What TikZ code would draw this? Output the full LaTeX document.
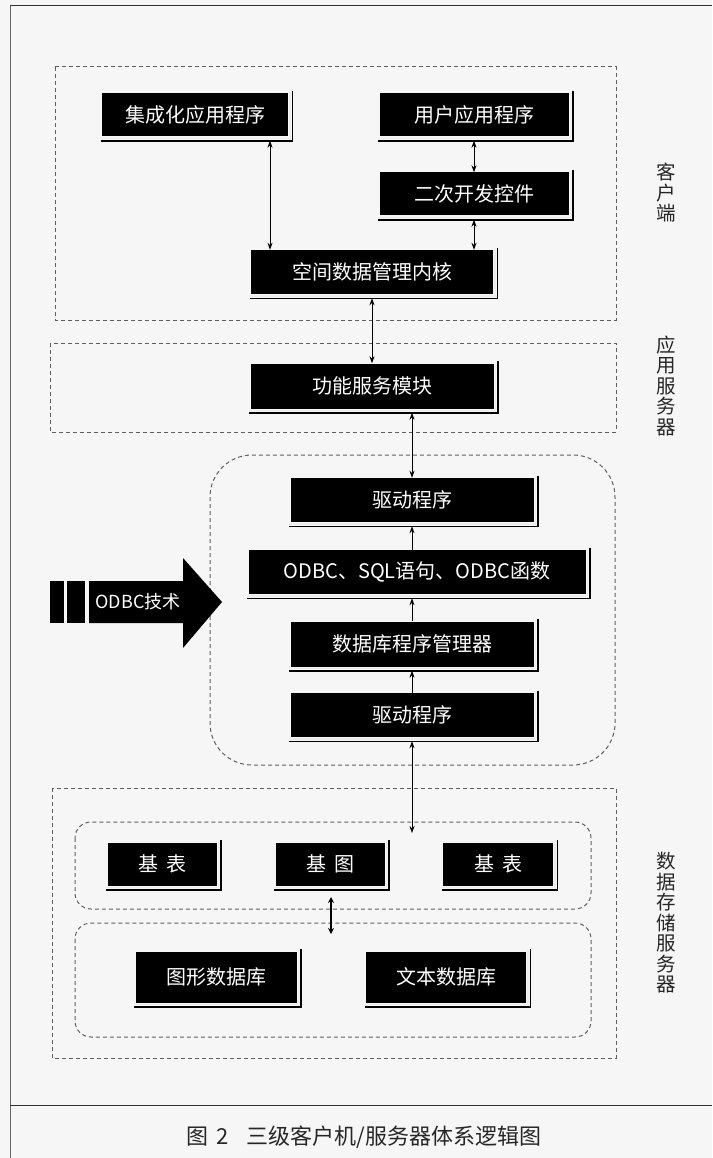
\documentclass[tikz,border=0pt]{standalone}
\usepackage{fontspec}
\setmainfont{Noto Sans CJK SC}
\usetikzlibrary{arrows.meta,calc}
\tikzset{
  blk/.style={fill=black, text=white, inner sep=0pt, font=\fontsize{20}{20}\selectfont},
  grp/.style={draw=gray!75!black, dash pattern=on 4pt off 3pt, line width=1pt},
  conn/.style={line width=0.8pt, {Stealth[length=7pt,width=5pt]}-{Stealth[length=7pt,width=5pt]}},
  upconn/.style={line width=0.8pt, -{Stealth[length=7pt,width=5pt]}},
  side/.style={font=\fontsize{19.5}{20.5}\selectfont, align=center, inner sep=0pt, text=black!85},
}
\newcommand\bevel[1]{%
  \draw[black,line width=1.8pt] ([xshift=4.2pt,yshift=2pt]#1.north east) -- ([xshift=4.2pt,yshift=-4.2pt]#1.south east) -- ([xshift=-1pt,yshift=-4.2pt]#1.south west);
  \draw[gray!15,line width=1.4pt] ([xshift=1.7pt,yshift=1pt]#1.north east) -- ([xshift=1.7pt,yshift=-1.7pt]#1.south east) -- ([xshift=-1pt,yshift=-1.7pt]#1.south west);
}
\begin{document}
\begin{tikzpicture}[x=1pt,y=-1pt]
\useasboundingbox (0,0) rectangle (712,1158);
\fill[gray!7] (0,0) rectangle (712,1158);
% frame
\draw[black!80,line width=1pt] (10,6) -- (712,6);
\draw[black!60,line width=0.8pt] (10,6) -- (10,1158);
\draw[black!80,line width=1pt] (10,1105) -- (712,1105);

% dashed groups
\draw[grp] (55,67) rectangle (616,320);
\draw[grp] (50,343) rectangle (616,432);
\draw[grp, rounded corners=42pt] (210,455) rectangle (615,765);
\draw[grp] (52,788) rectangle (616,1058);
\draw[grp, rounded corners=16pt] (75,822) rectangle (591,909);
\draw[grp, rounded corners=16pt] (75,923) rectangle (591,1037);

% side labels
\node[side] (lc) at (666,193) {客\\户\\端};
\node[side] (la) at (666,386) {应\\用\\服\\务\\器};
\node[side] (ld) at (666,923) {数\\据\\存\\储\\服\\务\\器};

% boxes
\node[blk, minimum width=186pt, minimum height=43pt] (A) at (195,115) {集成化应用程序};
\node[blk, minimum width=189pt, minimum height=43pt] (B) at (474,115) {用户应用程序};
\node[blk, minimum width=189pt, minimum height=43pt] (C) at (474,194) {二次开发控件};
\node[blk, minimum width=242pt, minimum height=44pt] (D) at (372,272) {空间数据管理内核};
\node[blk, minimum width=243pt, minimum height=45pt] (E) at (372,386) {功能服务模块};
\node[blk, minimum width=243pt, minimum height=44pt] (F) at (412,500) {驱动程序};
\node[blk, minimum width=337pt, minimum height=44pt] (G) at (417,572) {ODBC、SQL语句、ODBC函数};
\node[blk, minimum width=243pt, minimum height=45pt] (H) at (412,644) {数据库程序管理器};
\node[blk, minimum width=243pt, minimum height=44pt] (I) at (412,715) {驱动程序};
\node[blk, minimum width=109pt, minimum height=43pt] (J) at (162,864) {基\hspace{8pt}表};
\node[blk, minimum width=109pt, minimum height=43pt] (K) at (330,864) {基\hspace{8pt}图};
\node[blk, minimum width=110pt, minimum height=43pt] (L) at (498,864) {基\hspace{8pt}表};
\node[blk, minimum width=161pt, minimum height=51pt] (M) at (216,977) {图形数据库};
\node[blk, minimum width=160pt, minimum height=51pt] (N) at (446,977) {文本数据库};
\foreach \n in {A,B,C,D,E,F,G,H,I,J,K,L,M,N} {\bevel{\n}}

% ODBC arrow
\fill[black] (89,581) -- (183,581) -- (183,558) -- (222,602) -- (183,648) -- (183,623) -- (89,623) -- cycle;
\fill[black] (50,581) rectangle (64,623);
\fill[black] (67,581) rectangle (85,623);
\node[text=white, font=\fontsize{18}{18}\selectfont, inner sep=0pt] (odbc) at (138,602) {ODBC技术};

% connectors
\coordinate (ax) at (270,0);
\coordinate (dbend) at (412,833);
\coordinate (g1) at (331,897);
\coordinate (g2) at (331,934);
\draw[conn] ([yshift=-4pt]ax |- A.south) -- (ax |- D.north);
\draw[conn] ([yshift=-4pt]B.south) -- (C.north);
\draw[conn] ([yshift=-4pt]C.south) -- (C.south |- D.north);
\draw[conn] ([yshift=-4pt]D.south) -- (D.south |- E.north);
\draw[conn] ([yshift=-4pt]F.north |- E.south) -- (F.north);
\draw[upconn] (F.south |- G.north) -- ([yshift=-4pt]F.south);
\draw[upconn] (H.north) -- ([yshift=-4pt]H.north |- G.south);
\draw[upconn] (I.north) -- ([yshift=-4pt]H.south);
\draw[conn] ([yshift=-4pt]I.south) -- (dbend);
\draw[line width=2.4pt, {Stealth[length=6pt,width=6pt]}-{Stealth[length=6pt,width=6pt]}] (g1) -- (g2);

% caption
\node[font=\fontsize{22}{22}\selectfont, text=black!85, inner sep=0pt] (cap) at (364,1137) {图\hspace{8pt}2\hspace{18pt}三级客户机/服务器体系逻辑图};
\end{tikzpicture}
\end{document}
